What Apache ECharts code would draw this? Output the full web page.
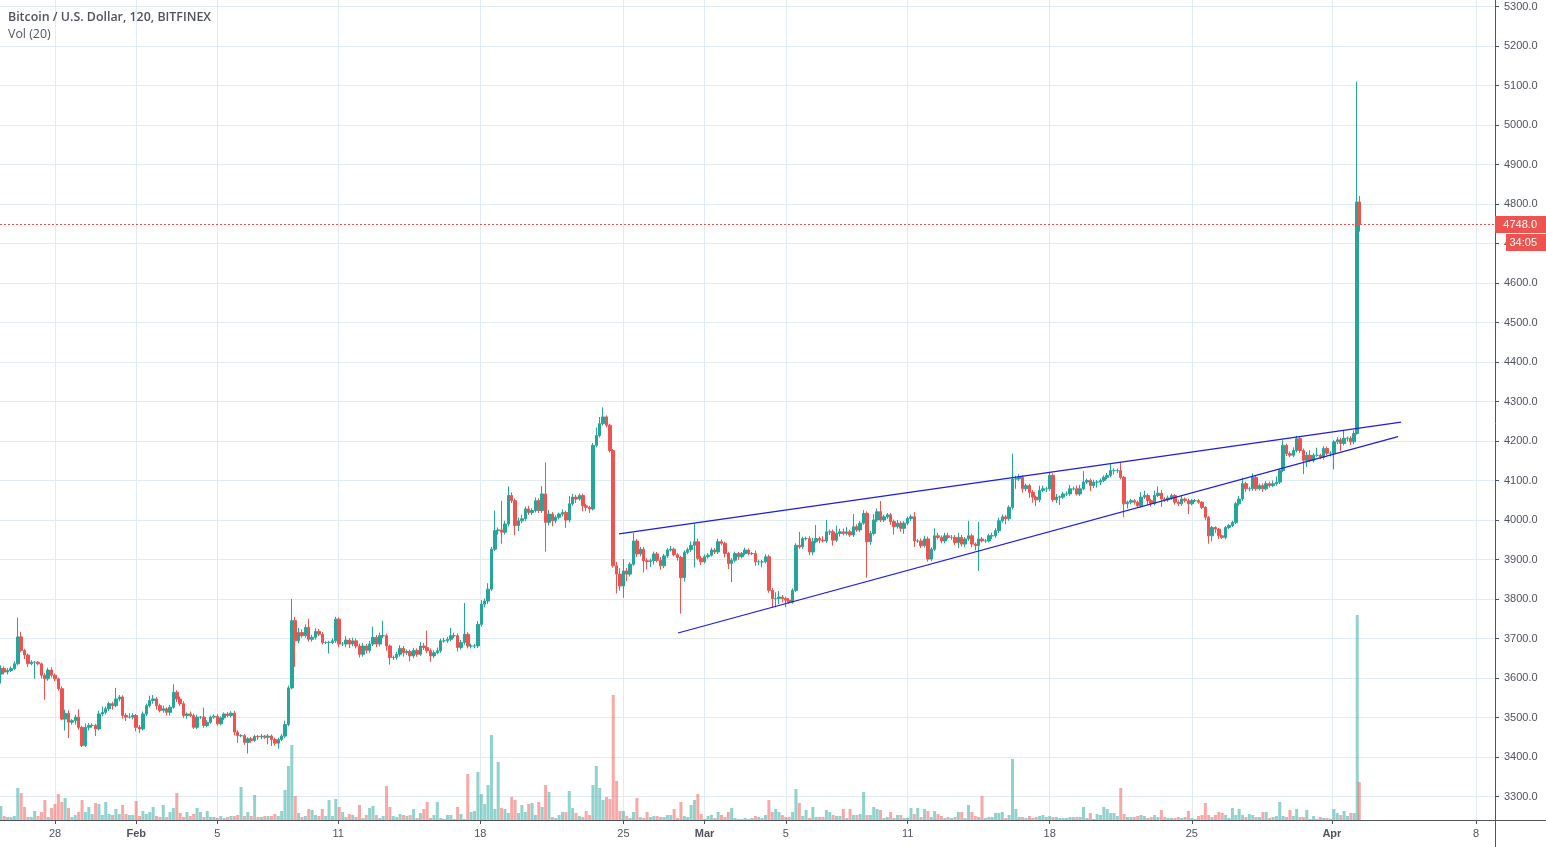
<!DOCTYPE html>
<html>
<head>
<meta charset="utf-8">
<title>Bitcoin / U.S. Dollar</title>
<script src="https://cdn.jsdelivr.net/npm/echarts@6/dist/echarts.min.js"></script>
<style>
  html, body { margin: 0; padding: 0; background: #fff; }
  #chart-id { width: 1546px; height: 847px; }
</style>
</head>
<body>
<div id="chart-id"></div>
<script>
// closing prices, one bar per 4 hours. last two are the 2h spike bars
var closes = [
  3624,3615,3619,3624,3636,3704,3670,3658,3636,3640,3640,3636,3607,3598,3620,3607,3598,3573,3496,3510,
  3488,3492,3501,3475,3429,3475,3480,3480,3471,3509,3513,3522,3535,3530,3547,3552,3505,3501,3501,3505,
  3475,3471,3509,3530,3543,3547,3530,3518,3522,3513,3526,3564,3547,3535,3505,3509,3505,3475,3501,3501,
  3480,3488,3501,3503,3484,3499,3509,3505,3511,3463,3454,3454,3437,3446,3442,3452,
  3451,3453,3450,3453,3444,3435,3444,3453,3482,3575,3745,3694,3715,3707,3728,3698,3703,3718,3711,3690,
  3690,3690,3694,3749,3686,3686,3696,3686,3694,3681,3660,3681,3670,3686,3703,3686,3707,3707,3681,3652,
  3652,3660,3675,3664,3667,3656,3670,3660,3681,3677,3669,3656,3664,3669,3694,3694,3698,3707,3707,3677,
  3690,3711,3681,3681,3681,3736,3787,
  3795,3825,3926,3973,3975,3969,3990,4062,4049,3986,3998,4003,4028,4019,4024,4049,4024,4066,3994,4015,
  3998,4007,4015,4019,4000,4041,4058,4053,4062,4036,4032,4028,4189,4214,4244,4261,4240,4176,3884,3863,
  3833,3871,3863,3888,3947,3914,3926,3897,3895,3897,3914,3898,3884,3909,3924,3926,3912,3905,3854,
  3918,3925,3936,3945,3903,3894,3907,3911,3924,3919,3945,3941,3915,3890,3898,3915,3907,3915,3924,3915,3915,
  3894,3894,3894,3907,3822,3801,3801,3805,3801,3797,3792,3822,3936,3932,3953,3953,3919,3945,3953,3949,
  3947,3970,3970,3949,3966,3970,3966,3970,3962,3983,3975,3992,4017,3945,3966,4000,4021,4000,4008,4013,
  3996,3983,3992,3979,3992,4004,4008,3947,3947,3935,3952,3901,3926,3960,3956,3947,3960,3956,3956,3943,
  3956,3939,3952,3960,3939,3935,3952,3947,3947,3960,3960,3973,3998,4008,4003,4032,4104,4104,4108,4079,
  4087,4070,4058,4051,4075,4079,4079,4113,4051,4058,4058,4066,4066,4079,4079,4066,4079,4096,4100,4087,
  4096,4096,4100,4108,4113,4125,4125,4125,4108,4041,4045,4049,4045,4036,4058,4062,4049,4042,4062,4068,
  4053,4051,4056,4062,4045,4041,4053,4049,4041,4049,4049,4045,4032,4007,3960,3981,3977,3960,3956,3981,
  3986,3994,4041,4053,4092,4079,4079,4108,4079,4087,4079,4092,4087,4092,4096,4125,4189,4168,4164,4176,
  4206,4176,4151,4164,4151,4164,4164,4159,4181,4169,4169,4198,4203,4194,4207,4207,4198,4219,
  4805,4748
];
var firstOpen = 3610;

// wick lengths above and below the candle body, in dollars
var upperWicks = [
  8,5,6,5,6,49,13,4,4,5,3,3,3,5,6,7,4,3,6,10,
  8,4,6,20,4,10,6,5,4,8,15,6,5,5,28,5,4,6,10,6,
  4,6,6,5,12,10,5,5,8,4,6,20,5,6,6,4,6,5,6,3,
  24,5,4,5,5,4,4,5,5,6,5,4,4,4,5,4,
  4,5,3,5,4,5,5,5,10,6,55,10,12,8,8,22,6,8,6,5,
  3,4,6,6,5,5,10,5,8,6,6,8,5,8,27,6,8,38,5,4,
  5,6,8,6,5,5,6,5,10,8,43,6,6,8,6,8,6,20,8,6,
  6,79,5,6,5,8,10,
  6,15,6,51,6,74,8,23,8,5,8,10,6,8,6,8,6,20,80,10,
  5,5,4,8,5,20,8,6,5,5,5,4,6,20,17,24,4,4,4,10,
  15,30,8,5,20,5,6,6,6,5,6,5,8,5,5,8,4,4,4,
  5,5,10,47,8,6,6,5,6,5,8,6,4,4,6,5,4,4,6,4,4,
  8,5,5,6,5,6,16,15,5,5,5,5,5,34,5,5,6,10,34,5,
  10,30,6,6,20,8,8,12,5,32,6,5,8,5,6,15,8,27,5,5,
  5,5,8,5,5,5,6,12,5,6,8,6,5,19,8,5,8,8,6,6,
  12,6,5,38,5,4,43,5,5,5,8,6,8,6,5,5,64,8,8,5,
  5,5,6,4,12,8,5,8,5,8,4,5,6,10,6,8,10,28,5,5,
  6,5,5,5,6,17,6,5,22,4,4,5,4,4,13,12,5,5,12,17,
  8,5,6,5,4,5,8,4,5,4,4,4,3,3,3,4,3,3,3,4,
  4,4,5,8,15,5,5,10,5,5,6,6,5,8,14,5,13,4,6,8,
  7,4,5,8,13,5,19,4,6,5,5,4,7,5,21,4,5,8,
  305,15
];
var lowerWicks = [
  24,6,6,4,4,4,5,10,8,4,42,4,8,53,5,6,6,5,3,29,
  40,6,10,6,4,4,8,6,18,4,6,5,6,10,4,6,8,10,4,6,
  10,10,4,6,5,8,10,5,6,8,8,4,8,6,6,8,4,4,4,5,
  6,5,4,4,5,4,5,4,5,8,18,4,6,28,6,4,
  8,6,4,18,16,6,14,4,5,4,4,66,6,5,5,6,6,6,5,5,
  4,28,4,5,8,5,8,10,6,6,8,6,8,6,5,8,6,6,12,18,
  6,6,6,10,6,14,6,6,4,6,6,15,5,4,5,5,5,5,6,10,
  5,6,6,6,6,5,6,
  8,8,5,5,10,29,6,6,6,25,14,6,6,6,6,5,6,6,74,8,
  14,6,5,6,20,6,5,10,4,14,10,10,4,5,5,5,5,5,5,49,
  12,30,18,6,4,8,6,30,20,14,10,5,10,6,5,4,4,8,91,
  10,5,6,56,5,8,4,5,4,5,5,5,10,14,47,5,8,4,4,4,4,
  10,8,14,4,6,24,22,14,10,18,5,4,4,5,5,5,8,8,4,8,
  4,5,8,14,5,8,5,5,5,5,5,6,4,91,8,5,5,5,5,5,
  8,20,5,8,14,5,6,15,5,6,5,6,5,5,5,6,6,5,6,6,
  14,6,8,5,8,12,64,4,5,4,8,5,6,5,14,5,5,25,5,10,
  6,14,14,16,6,5,8,5,5,8,20,5,5,5,4,4,5,4,5,14,
  6,14,8,4,5,5,10,6,5,34,12,5,6,5,5,5,10,8,5,4,
  20,5,5,5,6,6,5,5,26,4,4,4,4,8,20,14,10,8,4,5,
  4,4,4,5,5,8,6,5,5,4,8,4,5,4,5,5,4,6,5,5,
  5,6,35,17,5,5,4,5,6,5,8,41,6,19,5,8,8,6,
  3,18
];

// volume per bar, in hundreds
var volumes = [
  14,4,3,3,4,32,27,13,3,3,9,4,8,20,3,12,16,26,18,22,
  12,3,5,8,20,8,13,6,17,16,5,18,6,5,11,6,15,6,5,5,
  19,4,9,6,8,13,4,3,15,3,8,12,27,7,3,8,4,6,12,8,
  3,9,3,3,2,4,2,3,4,4,5,33,4,8,4,25,3,3,4,4,
  4,6,4,9,30,54,75,24,7,3,4,11,10,5,4,11,4,20,4,21,
  13,8,3,6,5,3,15,2,5,12,14,5,2,4,34,13,4,3,6,5,
  4,5,11,2,7,11,18,2,5,18,2,1,5,5,1,13,6,1,46,8,
  9,48,26,16,35,85,11,58,12,11,7,23,20,7,15,8,16,17,5,18,
  13,35,28,3,2,5,8,8,29,12,7,4,3,9,5,35,54,32,20,23,
  21,125,39,9,9,4,2,8,22,3,2,8,3,4,4,3,3,5,5,11,2,18,
  4,3,15,20,26,6,1,4,5,2,8,5,3,8,12,2,1,1,2,1,
  2,4,3,2,5,20,8,11,8,5,3,3,8,31,17,4,10,2,13,3,
  3,3,10,8,5,4,4,11,2,11,5,5,6,28,5,5,13,11,10,2,
  3,8,2,5,5,2,2,12,6,12,3,11,9,3,9,6,4,2,3,2,
  3,8,8,2,15,8,4,3,24,2,3,3,7,7,8,2,5,61,11,
  3,3,2,4,2,3,4,5,3,4,3,3,2,2,2,3,3,3,3,13,
  2,7,1,6,5,13,11,7,7,4,32,6,3,3,3,4,5,4,2,3,
  5,3,10,3,2,2,2,3,2,3,9,2,1,4,5,17,5,3,5,8,
  7,5,2,12,5,11,5,3,6,5,3,3,8,8,2,3,4,18,4,3,
  10,4,11,3,3,10,1,4,1,3,2,2,1,11,7,5,9,4,7,7,
  205,38
];

// days counted from 28 Jan
var firstBarDay = -2.667;
var spikeBarDays = [64.15, 64.25];
var tickDays = [0, 4, 8, 13.95, 20.95, 28, 32, 36, 42, 49, 56, 62.9, 70];
var tickLabels = ['28', 'Feb', '5', '11', '18', '25', 'Mar', '5', '11', '18', '25', 'Apr', '8'];
var priceTicks = [3300,3400,3500,3600,3700,3800,3900,4000,4100,4200,4300,4400,4500,4600,4700,4800,4900,5000,5100,5200,5300];

var upperTrendDays = [27.78, 66.31];
var upperTrendPrices = [3965, 4248];
var lowerTrendDays = [30.69, 66.16];
var lowerTrendPrices = [3714, 4211];

var lastPrice = 4748;
var countdown = '34:05';

var upColor = '#26a69a';
var downColor = '#ef5350';
var gridColor = '#e1ecf2';
var textColor = '#50535e';

var candles = [];
var volumeBars = [];
closes.forEach(function (close, i) {
  var day = i < closes.length - 2 ? firstBarDay + i / 6 : spikeBarDays[i - closes.length + 2];
  var open = i === 0 ? firstOpen : closes[i - 1];
  candles.push([day, open, close, Math.min(open, close) - lowerWicks[i], Math.max(open, close) + upperWicks[i]]);
  volumeBars.push({
    value: [day, volumes[i]],
    itemStyle: { color: close >= open ? upColor : downColor, opacity: 0.5 }
  });
});

function trendLine(days, prices) {
  return {
    type: 'line',
    data: days.map(function (d, i) { return [d, prices[i]]; }),
    showSymbol: false,
    silent: true,
    z: 5,
    lineStyle: { color: '#1c1ce6', width: 1.2 }
  };
}

var chartDom = document.getElementById('chart-id');
var myChart = echarts.init(chartDom);

var option = {
  animation: false,
  backgroundColor: '#fff',
  textStyle: { fontFamily: 'Liberation Sans' },
  title: [
    {
      text: 'Bitcoin / U.S. Dollar, 120, BITFINEX',
      left: 8, top: 11, padding: 0,
      textStyle: { fontFamily: 'Open Sans', fontSize: 12.4, fontWeight: 600, color: textColor }
    },
    {
      text: 'Vol (20)',
      left: 8, top: 28, padding: 0,
      textStyle: { fontFamily: 'Open Sans', fontSize: 12.4, fontWeight: 400, color: textColor }
    }
  ],
  grid: { left: 0, top: 0, right: 51, bottom: 27 },
  xAxis: {
    type: 'value',
    min: -2.709,
    max: 70.936,
    axisLine: { show: false, onZero: false },
    axisTick: { length: 4, customValues: tickDays, lineStyle: { color: textColor } },
    splitLine: { show: true, lineStyle: { color: gridColor, width: 1 } },
    axisLabel: {
      customValues: tickDays,
      margin: 8,
      fontSize: 11,
      color: textColor,
      formatter: function (value) {
        var label = tickLabels[tickDays.indexOf(value)];
        return /[a-z]/.test(label) ? '{b|' + label + '}' : label;
      },
      rich: { b: { fontSize: 11, fontWeight: 'bold', color: textColor } }
    }
  },
  yAxis: [
    {
      type: 'value',
      position: 'right',
      min: 3240.5,
      max: 5316.5,
      axisLine: { show: false, onZero: false },
      axisTick: { show: true, length: 4, customValues: priceTicks, lineStyle: { color: textColor } },
      splitLine: { show: true, lineStyle: { color: gridColor, width: 1 } },
      axisLabel: {
        customValues: priceTicks,
        margin: 9,
        fontSize: 11,
        padding: [2, 0, 0, 0],
        color: textColor,
        formatter: function (value) { return value.toFixed(1); }
      }
    },
    {
      type: 'value',
      min: 0,
      max: 820,
      show: false,
      splitLine: { show: false }
    }
  ],
  series: [
    {
      name: 'Vol',
      type: 'bar',
      yAxisIndex: 1,
      data: volumeBars,
      barWidth: 3,
      silent: true,
      z: 1
    },
    {
      name: 'BTCUSD',
      type: 'candlestick',
      data: candles,
      barWidth: 3,
      silent: true,
      z: 3,
      itemStyle: {
        color: upColor,
        color0: downColor,
        borderColor: upColor,
        borderColor0: downColor,
        borderWidth: 1
      },
      markLine: {
        silent: true,
        symbol: ['none', 'none'],
        label: { show: false },
        lineStyle: { color: downColor, width: 1, type: [2, 2] },
        data: [{ yAxis: lastPrice }]
      }
    },
    trendLine(upperTrendDays, upperTrendPrices),
    trendLine(lowerTrendDays, lowerTrendPrices)
  ]
};

myChart.setOption(option);

// price scale furniture: axis frame and the two red tags
var tagY = myChart.convertToPixel({ yAxisIndex: 0 }, lastPrice);
myChart.setOption({
  graphic: [
    { type: 'line', z: 50, shape: { x1: 0, y1: 820.5, x2: 1546, y2: 820.5 }, style: { stroke: textColor, lineWidth: 1 } },
    { type: 'line', z: 50, shape: { x1: 1495.5, y1: 0, x2: 1495.5, y2: 847 }, style: { stroke: textColor, lineWidth: 1 } },
    { type: 'rect', z: 60, shape: { x: 1495, y: tagY - 8.5, width: 51, height: 17 }, style: { fill: downColor } },
    { type: 'text', z: 61, style: { x: 1537, y: tagY, text: lastPrice.toFixed(1), fill: '#fff', font: '11px "Liberation Sans"', align: 'right', verticalAlign: 'middle' } },
    { type: 'rect', z: 60, shape: { x: 1506, y: tagY + 9.5, width: 40, height: 17 }, style: { fill: downColor } },
    { type: 'text', z: 61, style: { x: 1537, y: tagY + 18, text: countdown, fill: '#fff', font: '11px "Liberation Sans"', align: 'right', verticalAlign: 'middle' } }
  ]
});
</script>
</body>
</html>
